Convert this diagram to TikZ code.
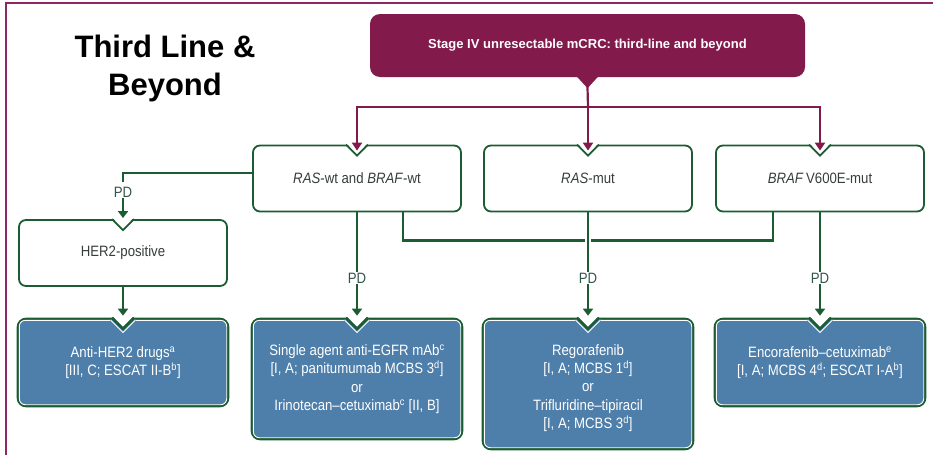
\documentclass[tikz,border=0pt]{standalone}
\usepackage{fontspec}
\setmainfont{Liberation Sans}
\newfontfamily\condfont[FakeStretch=0.88]{Liberation Sans}
\usepackage{tikz}
\usetikzlibrary{arrows.meta, calc}
\definecolor{mcrcpurple}{RGB}{130,26,75}
\definecolor{framepurple}{RGB}{140,40,100}
\definecolor{boxgreen}{RGB}{28,92,50}
\definecolor{boxblue}{RGB}{78,126,170}
\definecolor{pdgray}{RGB}{50,85,75}
\definecolor{txtgray}{RGB}{55,60,60}
% V-shaped notch at the top of a box (#1 node)
\newcommand{\whitenotch}[1]{%
  \fill[white] ($(#1.north)+(-12,-3)$) -- ($(#1.north)+(12,-3)$) -- ($(#1.north)+(0,10)$) -- cycle;
  \draw[notchline, line width=1.8pt] ($(#1.north)+(-11,0)$) -- ($(#1.north)+(0,11)$) -- ($(#1.north)+(11,0)$);}
\newcommand{\bluenotch}[1]{%
  \draw[innerline] ($(#1.north west)+(2.6,2.6)$) rectangle ($(#1.south east)+(-2.6,-2.6)$);
  \fill[boxblue] ($(#1.north)+(-13.5,1.6)$) -- ($(#1.north)+(13.5,1.6)$) -- ($(#1.north)+(0,15.1)$) -- cycle;
  \fill[white] ($(#1.north)+(-12,-3)$) -- ($(#1.north)+(12,-3)$) -- ($(#1.north)+(0,10)$) -- cycle;
  \draw[notchline, line width=2.6pt] ($(#1.north)+(-11,0)$) -- ($(#1.north)+(0,11)$) -- ($(#1.north)+(11,0)$);
  \draw[white, line width=0.9pt] ($(#1.north)+(-12.1,2.6)$) -- ($(#1.north)+(0,14.7)$) -- ($(#1.north)+(12.1,2.6)$);}
\tikzset{
  stagebox/.style={rectangle, fill=mcrcpurple, rounded corners=10pt,
    minimum width=435pt, minimum height=63pt, text=white,
    font=\bfseries\fontsize{13}{15}\selectfont},
  whitebox/.style={rectangle, inner sep=0pt, align=center,
    draw=boxgreen, fill=white, line width=1.8pt, rounded corners=7pt,
    minimum width=208pt, minimum height=66pt, text=txtgray,
    font=\condfont\fontsize{15}{18}\selectfont},
  bluebox/.style={rectangle, inner sep=0pt, align=center,
    draw=boxgreen, fill=boxblue, line width=2.6pt, rounded corners=8pt,
    minimum width=210pt, text=white,
    font=\condfont\fontsize{15}{18.3}\selectfont},
  pdlabel/.style={inner sep=1pt, text=pdgray,
    font=\condfont\fontsize{15}{18}\selectfont},
  notchline/.style={draw=boxgreen, line join=miter},
  innerline/.style={draw=white, line width=0.9pt, rounded corners=6pt},
  purplearrow/.style={-{Triangle[width=10pt,length=8pt]}, line width=2.2pt, color=mcrcpurple},
  purpleline/.style={line width=2.2pt, color=mcrcpurple},
  greenarrow/.style={-{Triangle[width=10pt,length=7pt]}, line width=2.6pt, color=boxgreen},
  greenline/.style={line width=2.6pt, color=boxgreen}
}

\begin{document}
\begin{tikzpicture}[x=1pt, y=-1pt]
  \useasboundingbox (0,0) rectangle (933,455);
  % ── frame ──
  \draw[framepurple, line width=2pt] (6,455) -- (6,3) -- (933,3);

  % ── title ──
  \node[align=center, font=\bfseries\fontsize{31}{38}\selectfont] (title) at (165,68) {Third Line \&\\Beyond};

  % ── top box ──
  \node[stagebox] (stage) at (587.5,45.5) {Stage IV unresectable mCRC: third-line and beyond};
  \fill[mcrcpurple] ($(stage.south)+(-11,-1)$) -- ($(stage.south)+(11,-1)$) -- ($(stage.south)+(0,11)$) -- cycle;

  % ── marker rows ──
  \node[whitebox] (raswt)  at (357,178.5) {\textit{RAS}-wt and \textit{BRAF}-wt};
  \node[whitebox] (rasmut) at (588,178.5) {\textit{RAS}-mut};
  \node[whitebox] (brafmut) at (820,178.5) {\textit{BRAF}\,V600E-mut};
  \node[whitebox] (her2)   at (123,253) {HER2-positive};

  % ── treatment boxes ──
  \node[bluebox, minimum height=87pt]  (antiher2) at (123,362.5) {Anti-HER2 drugs\textsuperscript{a}\\{}[III, C; ESCAT II-B\textsuperscript{b}]};
  \node[bluebox, minimum height=120pt] (antiegfr) at (357,379) {Single agent anti-EGFR mAb\textsuperscript{c}\\{}[I, A; panitumumab MCBS 3\textsuperscript{d}]\\or\\Irinotecan–cetuximab\textsuperscript{c} [II, B]};
  \node[bluebox, minimum height=130pt] (regora)   at (588,384) {\rule{0pt}{19pt}Regorafenib\\{}[I, A; MCBS 1\textsuperscript{d}]\\or\\Trifluridine–tipiracil\\{}[I, A; MCBS 3\textsuperscript{d}]};
  \node[bluebox, minimum height=87pt]  (encora)   at (820,362.5) {Encorafenib–cetuximab\textsuperscript{e}\\{}[I, A; MCBS 4\textsuperscript{d}; ESCAT I-A\textsuperscript{b}]};

  % notches
  \foreach \b in {raswt, rasmut, brafmut, her2} {\whitenotch{\b}}
  \foreach \b in {antiher2, antiegfr, regora, encora} {\bluenotch{\b}}

  % ── PD labels ──
  \node[pdlabel] (pdher)  at (123,192) {PD};
  \node[pdlabel] (pdwt)   at (357,278) {PD};
  \node[pdlabel] (pdmut)  at (588,278) {PD};
  \node[pdlabel] (pdbraf) at (820,278) {PD};

  % ── purple split ──
  \coordinate (split) at (588,107);
  \draw[purpleline] ($(stage.south)+(0,10)$) -- (split);
  \draw[purplearrow] (split) -| ($(raswt.north)+(0,6)$);
  \draw[purplearrow] (split) -- ($(rasmut.north)+(0,6)$);
  \draw[purplearrow] (split) -| ($(brafmut.north)+(0,6)$);

  % ── green connectors ──
  \draw[greenline] (raswt.west |- 0,173) -| ($(pdher.north)+(0,-4)$);
  \draw[greenarrow] (pdher.south) -- ($(her2.north)+(0,-1)$);
  \draw[greenarrow] (her2.south) -- ($(antiher2.north)+(0,-2)$);
  \draw[greenline] ($(raswt.south)+(46,0)$) -- ++(0,28) -| ($(brafmut.south)+(-47,0)$);
  \draw[greenline] (raswt.south) -- (pdwt.north);
  \draw[white, line width=6pt] ($(rasmut.south)+(0,4)$) -- (pdmut.north);
  \draw[greenline] (rasmut.south) -- (pdmut.north);
  \draw[greenline] (brafmut.south) -- (pdbraf.north);
  \draw[greenarrow] (pdwt.south) -- ($(antiegfr.north)+(0,-2)$);
  \draw[greenarrow] (pdmut.south) -- ($(regora.north)+(0,-2)$);
  \draw[greenarrow] (pdbraf.south) -- ($(encora.north)+(0,-2)$);
\end{tikzpicture}
\end{document}
